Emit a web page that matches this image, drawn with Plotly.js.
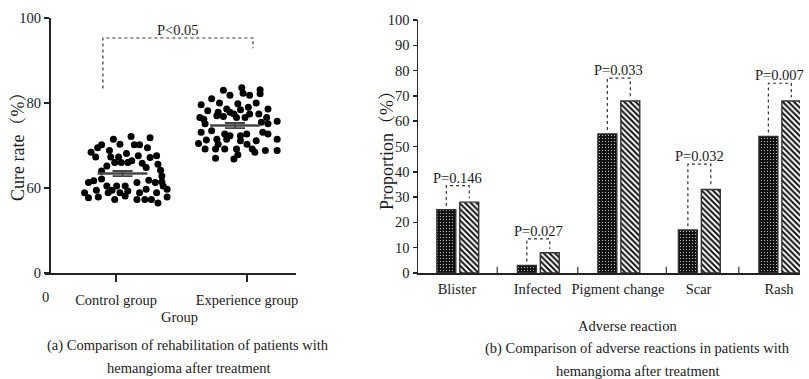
<!DOCTYPE html>
<html>
<head>
<meta charset="utf-8">
<script src="https://cdn.plot.ly/plotly-3.0.1.min.js"></script>
<style>html,body{margin:0;padding:0;background:#fff}#chart{width:809px;height:379px}</style>
</head>
<body>
<div id="chart"></div>
<script>
// ---------- Panel (a) data ----------
const groupNames = ['Control group', 'Experience group'];
const groupTickPos = [0, 1];
const ctrlX = [-0.02,0.115,0.14,0.26,0.03,0.18,-0.11,-0.14,-0.19,-0.155,-0.05,-0.04,0.02,0.08,0.09,0.04,0.17,0.24,0.26,0.31,0.32,0.34,-0.07,-0.11,-0.01,0.12,0.2,0.23,0.35,0.35,-0.21,-0.17,-0.11,-0.07,0.005,0.07,0.16,0.25,0.30,0.36,-0.24,-0.15,-0.06,0.09,0.18,0.23,0.31,0.39,-0.21,-0.135,-0.01,0.07,0.16,0.22,0.27,0.32,0.39,0.03,-0.03];
const ctrlY = [71.5,72.1,70.2,71.8,70.3,70.2,70.2,69.5,68.4,67.3,68.8,67.3,67.3,68.1,66.0,66.0,67.6,69.5,67.2,67.6,65.6,64.2,65.2,64.0,66.0,66.4,65.8,64.8,62.8,61.5,61.3,61.7,62.1,60.5,60.5,60.5,61.3,61.8,61.3,60.5,58.9,59.5,58.9,59.3,58.9,59.7,58.9,59.7,57.7,57.9,57.3,58.1,57.3,57.3,57.3,56.5,57.9,58.9,59.5];
const expX = [0.82,0.96,0.97,1.10,1.10,0.87,1.02,0.73,0.65,0.79,0.93,1.07,1.16,0.70,0.78,0.845,0.87,0.95,1.01,1.02,0.77,0.82,0.90,0.92,0.985,1.09,1.15,0.64,0.68,0.67,1.11,1.16,1.23,0.65,0.73,0.83,0.87,0.95,0.998,1.12,1.16,0.63,0.69,0.77,0.78,0.845,0.95,1.0,1.07,1.23,0.68,0.76,0.83,0.92,1.04,1.14,1.23,0.76,0.90,0.93,1.06];
const expY = [83.0,83.6,82.3,83.1,82.2,81.8,81.8,81.0,79.6,80.0,79.8,80.0,78.6,78.2,77.8,78.6,77.8,78.4,79.0,77.4,77.0,76.8,77.4,76.6,76.6,77.4,76.6,76.6,75.1,76.2,75.5,75.1,75.7,73.1,73.5,72.7,72.3,72.3,72.7,73.1,72.7,70.5,71.3,71.5,70.3,71.5,71.1,70.3,71.1,71.5,69.2,69.2,69.2,69.2,69.2,68.8,68.8,67.0,66.8,67.8,68.4];
const groupMeans = [63.4, 74.7];
const groupSEM = [0.6, 0.6];
const meanCenters = [0.05, 0.908];
const leftTickVals = [40, 60, 80, 100];
const leftTickText = ['0', '60', '80', '100'];
const leftP = 'P<0.05';

// ---------- Panel (b) data ----------
const reactions = ['Blister', 'Infected', 'Pigment change', 'Scar', 'Rash'];
const darkVals = [25, 3, 55, 17, 54];
const hatchVals = [28, 8, 68, 33, 68];
const pLabels = ['P=0.146', 'P=0.027', 'P=0.033', 'P=0.032', 'P=0.007'];
const bracketTops = [34.5, 13.5, 77, 43, 75];
const dividerPos = [0.5, 1.5, 2.6, 3.5];

// ---------- helpers ----------
const W = 809, H = 379;
const px = v => v / W;
const py = v => 1 - v / H;
const FONT = 'Liberation Serif, Times New Roman, Noto Serif CJK SC, Noto Sans CJK SC, serif';
const TXT = '#1a1a1a';

const traces = [];
// scatter points
traces.push({x: ctrlX, y: ctrlY, xaxis: 'x', yaxis: 'y', type: 'scatter', mode: 'markers',
  marker: {color: '#000', size: 7}, hoverinfo: 'skip', showlegend: false});
traces.push({x: expX, y: expY, xaxis: 'x', yaxis: 'y', type: 'scatter', mode: 'markers',
  marker: {color: '#000', size: 7}, hoverinfo: 'skip', showlegend: false});
// mean lines and SEM
groupMeans.forEach((m, i) => {
  const c = meanCenters[i];
  traces.push({x: [c - 0.19, c + 0.19], y: [m, m], xaxis: 'x', yaxis: 'y', type: 'scatter', mode: 'lines',
    line: {color: '#444', width: 2.5}, hoverinfo: 'skip', showlegend: false});
  traces.push({x: [c], y: [m], xaxis: 'x', yaxis: 'y', type: 'scatter', mode: 'markers',
    marker: {size: 1, color: 'rgba(0,0,0,0)'},
    error_y: {type: 'data', array: [groupSEM[i]], visible: true, width: 10, thickness: 1.8, color: '#444'},
    hoverinfo: 'skip', showlegend: false});
});

// bars
const idx = reactions.map((r, i) => i);
traces.push({x: idx, y: darkVals, xaxis: 'x2', yaxis: 'y2', type: 'bar',
  width: 0.235, offset: -0.25,
  marker: {color: '#111', line: {color: '#333', width: 1.4},
    pattern: {shape: '.', fgcolor: '#ddd', bgcolor: '#111', size: 3, solidity: 0.12, fillmode: 'replace'}},
  hoverinfo: 'skip', showlegend: false});
traces.push({x: idx, y: hatchVals, xaxis: 'x2', yaxis: 'y2', type: 'bar',
  width: 0.235, offset: 0.035,
  marker: {color: '#fff', line: {color: '#333', width: 1.4},
    pattern: {shape: '\\', fgcolor: '#111', bgcolor: '#fff', size: 4, solidity: 0.5, fillmode: 'replace'}},
  hoverinfo: 'skip', showlegend: false});

const shapes = [];
const annotations = [];
const dotLine = {color: '#333', width: 1.2, dash: 'dot'};

// right brackets
reactions.forEach((r, i) => {
  const xa = i - 0.1325, xb = i + 0.1525;
  const t = bracketTops[i];
  shapes.push({type: 'path', xref: 'x2', yref: 'y2',
    path: `M ${xa},${darkVals[i] + 1.5} L ${xa},${t} L ${xb},${t} L ${xb},${hatchVals[i] + 1.5}`,
    line: dotLine});
  annotations.push({xref: 'x2', yref: 'y2', x: (xa + xb) / 2, y: t, yanchor: 'bottom', yshift: -2,
    text: pLabels[i], showarrow: false, font: {family: FONT, size: 14.5, color: TXT}});
});
// dividers
dividerPos.forEach(d => {
  shapes.push({type: 'line', xref: 'x2', yref: 'y2', x0: d, x1: d, y0: 0, y1: 2.5, line: {color: '#333', width: 1.2}});
});

// left bracket
shapes.push({type: 'path', xref: 'x', yref: 'y',
  path: `M -0.1,83.4 L -0.1,95.3 L 1.046,95.3 L 1.046,92.9`, line: dotLine});
annotations.push({xref: 'x', yref: 'y', x: 0.473, y: 95.3, yanchor: 'bottom', yshift: -2,
  text: leftP, showarrow: false, font: {family: FONT, size: 14.5, color: TXT}});

// text annotations (paper)
const paperText = (x, y, text, size, extra) => Object.assign({xref: 'paper', yref: 'paper', x: px(x), y: py(y),
  xanchor: 'center', yanchor: 'middle', text: text, showarrow: false, font: {family: FONT, size: size, color: TXT}}, extra || {});
annotations.push(paperText(45, 297, '0', 14.5));
annotations.push(paperText(179, 317, 'Group', 14.5));
annotations.push(paperText(188, 345, '(a) Comparison of rehabilitation of patients with', 14.5));
annotations.push(paperText(188, 368, 'hemangioma after treatment', 14.5));
annotations.push(paperText(627, 326, 'Adverse reaction', 14.5));
annotations.push(paperText(637, 348, '(b) Comparison of adverse reactions in patients with', 14.5));
annotations.push(paperText(637, 371, 'hemangioma after treatment', 14.5));
annotations.push(paperText(18, 143, 'Cure rate（%）', 18, {textangle: -90}));
annotations.push(paperText(387, 146, 'Proportion（%）', 18, {textangle: -90}));

const axisCommon = {showgrid: false, zeroline: false, showline: true, linecolor: '#222', linewidth: 1.5,
  tickfont: {family: FONT, size: 14.5, color: TXT}, tickcolor: '#222', tickwidth: 1.5, fixedrange: true};

const layout = {
  width: W, height: H, margin: {l: 0, r: 0, t: 0, b: 0},
  paper_bgcolor: '#fff', plot_bgcolor: 'rgba(0,0,0,0)', showlegend: false,
  barmode: 'overlay',
  xaxis: Object.assign({}, axisCommon, {domain: [px(45), px(296)], range: [-0.542, 1.374], anchor: 'y',
    tickvals: groupTickPos, ticktext: groupNames, ticks: 'outside', ticklen: 7, ticklabelstandoff: 6}),
  yaxis: Object.assign({}, axisCommon, {domain: [py(273), py(18)], range: [40, 100], anchor: 'free', position: px(49),
    tickvals: leftTickVals, ticktext: leftTickText, ticks: 'outside', ticklen: 5}),
  xaxis2: Object.assign({}, axisCommon, {domain: [px(418), px(800)], range: [-0.484, 4.26], anchor: 'y2',
    tickvals: idx, ticktext: reactions, ticks: '', ticklabelstandoff: 2}),
  yaxis2: Object.assign({}, axisCommon, {domain: [py(273), py(20)], range: [0, 100], anchor: 'x2',
    dtick: 10, tick0: 0, ticks: 'outside', ticklen: 4}),
  shapes: shapes,
  annotations: annotations
};

Plotly.newPlot('chart', traces, layout, {displayModeBar: false, staticPlot: true});
</script>
</body>
</html>
